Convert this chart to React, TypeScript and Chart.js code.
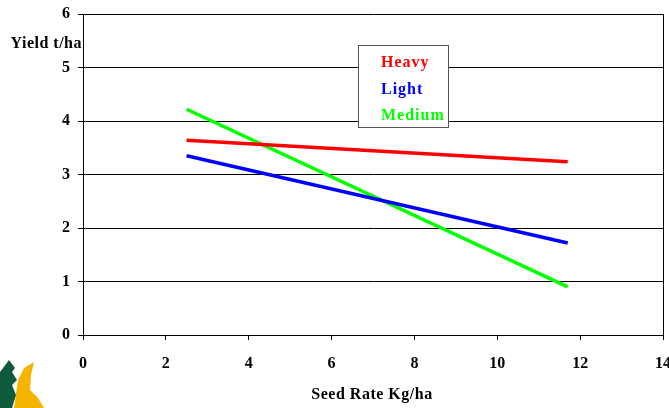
import React, { useEffect, useRef } from "react";
import { Chart, registerables } from "chart.js";

Chart.register(...registerables);

const seriesNames = ["Heavy", "Light", "Medium"];
const seriesColors = ["#FF0000", "#0000FF", "#00FF00"];
const seedRates = [2.5, 11.7];
const heavyYield = [3.64, 3.24];
const lightYield = [3.35, 1.72];
const mediumYield = [4.22, 0.9];
const xTicks = [0, 2, 4, 6, 8, 10, 12, 14];
const yTicks = [0, 1, 2, 3, 4, 5, 6];
const yTitle = "Yield t/ha";
const xTitle = "Seed Rate Kg/ha";

const FAMILY = "'Liberation Serif', 'Times New Roman', serif";
const FONT = `bold 16px ${FAMILY}`;

const decorPlugin = {
  id: "decor",
  afterDraw(chart: any) {
    const { ctx, chartArea } = chart;
    ctx.save();
    ctx.strokeStyle = "#000";
    ctx.lineWidth = 1;
    ctx.beginPath();
    ctx.moveTo(Math.round(chartArea.right) + 0.5, chartArea.top);
    ctx.lineTo(Math.round(chartArea.right) + 0.5, chartArea.bottom);
    ctx.stroke();

    ctx.font = FONT;
    ctx.fillStyle = "#000";
    (ctx as any).letterSpacing = "0.5px";
    ctx.textBaseline = "middle";
    ctx.textAlign = "right";
    ctx.fillText(yTitle, 82, 44);
    ctx.textAlign = "center";
    ctx.fillText(xTitle, 372, 395);

    // legend box
    const bx = 358.5, by = 45.5, bw = 90, bh = 82;
    ctx.fillStyle = "#fff";
    ctx.fillRect(bx, by, bw, bh);
    ctx.strokeStyle = "#555";
    ctx.lineWidth = 1;
    ctx.strokeRect(bx, by, bw, bh);
    ctx.textAlign = "left";
    (ctx as any).letterSpacing = "1px";
    const ys = [63, 89.5, 116];
    seriesNames.forEach((n, i) => {
      ctx.fillStyle = seriesColors[i];
      ctx.fillText(n, 381, ys[i]);
    });

    // logo approximation
    (ctx as any).letterSpacing = "0px";
    ctx.fillStyle = "#F4B400";
    ctx.beginPath();
    ctx.moveTo(18, 380);
    ctx.lineTo(24, 368);
    ctx.lineTo(34, 362);
    ctx.lineTo(31, 375);
    ctx.lineTo(30, 390);
    ctx.lineTo(38, 398);
    ctx.lineTo(44, 408);
    ctx.lineTo(14, 408);
    ctx.closePath();
    ctx.fill();
    ctx.fillStyle = "#0E5A3A";
    ctx.beginPath();
    ctx.moveTo(9, 360);
    ctx.lineTo(15, 368);
    ctx.lineTo(12, 372);
    ctx.lineTo(17, 380);
    ctx.lineTo(12, 385);
    ctx.lineTo(16, 395);
    ctx.lineTo(12, 408);
    ctx.lineTo(0, 408);
    ctx.lineTo(0, 372);
    ctx.closePath();
    ctx.fill();
    ctx.restore();
  },
};

export default function App() {
  const ref = useRef<HTMLCanvasElement>(null);
  useEffect(() => {
    const mk = (ys: number[]) => seedRates.map((x, i) => ({ x, y: ys[i] }));
    const chart = new Chart(ref.current!, {
      type: "line",
      data: {
        datasets: [heavyYield, lightYield, mediumYield].map((d, i) => ({
          label: seriesNames[i],
          data: mk(d),
          borderColor: seriesColors[i],
          backgroundColor: seriesColors[i],
          borderWidth: 3.5,
          pointRadius: 0,
          tension: 0,
        })),
      },
      options: {
        animation: false,
        responsive: false,
        layout: { padding: { left: 0, right: 6, top: 14, bottom: 0 } },
        plugins: { legend: { display: false }, tooltip: { enabled: false } },
        scales: {
          x: {
            type: "linear",
            min: 0,
            max: 14,
            afterBuildTicks: (s: any) => {
              s.ticks = xTicks.map((v) => ({ value: v }));
            },
            afterFit: (s: any) => {
              s.height = 73;
              s.paddingLeft = 0;
              s.paddingRight = 0;
            },
            grid: {
              drawOnChartArea: false,
              drawTicks: true,
              tickLength: 5,
              color: "#000",
            },
            border: { color: "#000", width: 1 },
            ticks: {
              color: "#000",
              font: { family: FAMILY, size: 16, weight: "bold" },
              padding: 14,
              maxRotation: 0,
            },
          },
          y: {
            min: 0,
            max: 6,
            afterBuildTicks: (s: any) => {
              s.ticks = yTicks.map((v) => ({ value: v }));
            },
            afterFit: (s: any) => {
              s.width = 83;
              s.paddingTop = 0;
              s.paddingBottom = 0;
            },
            grid: {
              drawOnChartArea: true,
              drawTicks: true,
              tickLength: 5,
              color: "#000",
              lineWidth: 1,
            },
            border: { color: "#000", width: 1 },
            ticks: {
              color: "#000",
              font: { family: FAMILY, size: 16, weight: "bold" },
              padding: 8,
            },
          },
        },
      },
      plugins: [decorPlugin],
    } as any);
    return () => chart.destroy();
  }, []);
  return (
    <div style={{ position: "fixed", left: 0, top: 0, width: 669, height: 408, background: "#fff" }}>
      <canvas ref={ref} width={669} height={408} style={{ width: 669, height: 408 }} />
    </div>
  );
}
